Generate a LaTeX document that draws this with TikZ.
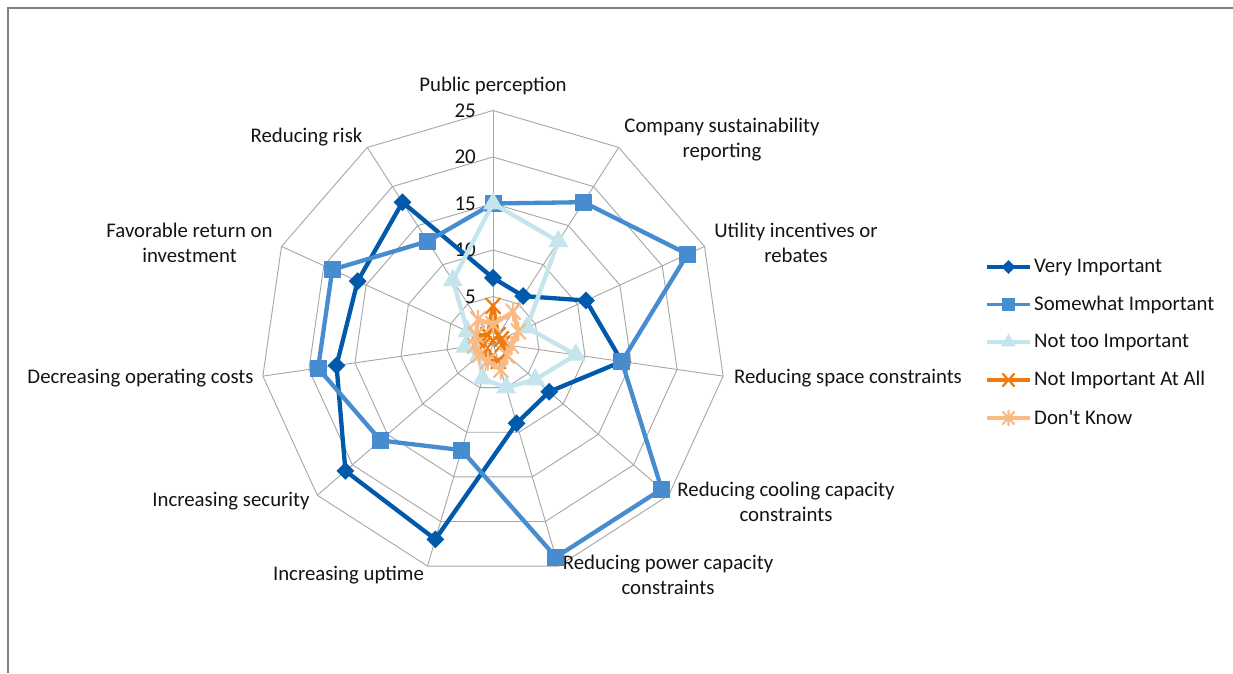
\documentclass[tikz,border=0pt]{standalone}
\usepackage{fontspec}
\setmainfont{Carlito}
\usetikzlibrary{shapes.geometric}
\definecolor{cVI}{RGB}{0,89,170}
\definecolor{cSI}{RGB}{70,140,206}
\definecolor{cNT}{RGB}{196,228,238}
\definecolor{cNA}{RGB}{240,122,10}
\definecolor{cDK}{RGB}{250,186,132}
\definecolor{gridc}{RGB}{166,166,166}
\definecolor{framec}{RGB}{128,128,128}
\definecolor{txt}{RGB}{20,20,20}
\tikzset{
  gridline/.style={draw=gridc, line width=0.9pt},
  frameline/.style={draw=framec, line width=2pt},
  serVI/.style={draw=cVI, line width=4.3pt, line join=round},
  serSI/.style={draw=cSI, line width=4.3pt, line join=round},
  serNT/.style={draw=cNT, line width=4.3pt, line join=round},
  serNA/.style={draw=cNA, line width=4.3pt, line join=round},
  serDK/.style={draw=cDK, line width=4.3pt, line join=round},
  mkVI/.style={diamond, fill=cVI, inner sep=0pt, minimum size=18pt},
  mkSI/.style={rectangle, fill=cSI, inner sep=0pt, minimum size=17pt},
  mkNT/.style={regular polygon, regular polygon sides=3, fill=cNT, inner sep=0pt, minimum size=23pt},
  lbl/.style={text=txt, font=\fontsize{20.8}{25}\selectfont, align=center, inner sep=0pt},
  tick/.style={text=txt, font=\fontsize{21}{25}\selectfont, anchor=east, inner sep=0pt},
  xmk/.pic={\draw[line width=2.2pt, line cap=round] (-7,-7.5) -- (7,7.5) (-7,7.5) -- (7,-7.5);},
  amk/.pic={\draw[line width=2.2pt, line cap=round] (-7,-7.5) -- (7,7.5) (-7,7.5) -- (7,-7.5) (0,-9) -- (0,9);},
}
\def\cx{493}\def\cy{343}\def\un{9.3}
\begin{document}
\begin{tikzpicture}[x=1pt,y=-1pt]
\useasboundingbox (0,0) rectangle (1233,673);
\fill[white] (0,0) rectangle (1233,673);
\coordinate (fbl) at (8,673);
\coordinate (ftl) at (8,7.5);
\coordinate (ftr) at (1233,7.5);
\draw[frameline] (fbl) -- (ftl) -- (ftr);
\coordinate (ctr) at (\cx,\cy);
% grid rings
\foreach \r in {5,10,15,20,25}{
  \foreach \k in {0,...,10}{
    \pgfmathsetmacro\ang{90-\k*360/11}
    \coordinate (g\r-\k) at ({\cx+\un*\r*cos(\ang)},{\cy-\un*\r*sin(\ang)});
  }
  \draw[gridline] (g\r-0) -- (g\r-1) -- (g\r-2) -- (g\r-3) -- (g\r-4) -- (g\r-5) -- (g\r-6) -- (g\r-7) -- (g\r-8) -- (g\r-9) -- (g\r-10) -- cycle;
}
\foreach \k in {0,...,10}{ \draw[gridline] (ctr) -- (g25-\k); }
% tick labels
\foreach \v in {0,5,...,25}{
  \node[tick] (t\v) at (476,{\cy-\un*\v}) {\v};
}
% data coordinates
\def\defser#1#2{%
  \foreach \val [count=\i from 0] in {#2}{
    \pgfmathsetmacro\ang{90-\i*360/11}
    \coordinate (#1\i) at ({\cx+\un*\val*cos(\ang)},{\cy-\un*\val*sin(\ang)});
  }}
\defser{vi}{7,6,11,14,8,9,22,21,17,16,18}
\defser{si}{15,18,23,14,24,24,12,16,19,19,13}
\defser{nt}{15,13,4,9,6,5,4,2,3,3,8}
\defser{na}{4,1,1,1,2,2,2,1,1,2,1}
\defser{dk}{2,4,3,2,2,3,2,2,2,2,3}
% series
\draw[serVI] (vi0) -- (vi1) -- (vi2) -- (vi3) -- (vi4) -- (vi5) -- (vi6) -- (vi7) -- (vi8) -- (vi9) -- (vi10) -- cycle;
\foreach \i in {0,...,10}{ \node[mkVI] (mvi\i) at (vi\i) {}; }
\draw[serSI] (si0) -- (si1) -- (si2) -- (si3) -- (si4) -- (si5) -- (si6) -- (si7) -- (si8) -- (si9) -- (si10) -- cycle;
\foreach \i in {0,...,10}{ \node[mkSI] (msi\i) at (si\i) {}; }
\draw[serNT] (nt0) -- (nt1) -- (nt2) -- (nt3) -- (nt4) -- (nt5) -- (nt6) -- (nt7) -- (nt8) -- (nt9) -- (nt10) -- cycle;
\foreach \i in {0,...,10}{ \node[mkNT] (mnt\i) at (nt\i) {}; }
\draw[serNA] (na0) -- (na1) -- (na2) -- (na3) -- (na4) -- (na5) -- (na6) -- (na7) -- (na8) -- (na9) -- (na10) -- cycle;
\foreach \i in {0,...,10}{ \pic[draw=cNA] at (na\i) {xmk}; }
\draw[serDK] (dk0) -- (dk1) -- (dk2) -- (dk3) -- (dk4) -- (dk5) -- (dk6) -- (dk7) -- (dk8) -- (dk9) -- (dk10) -- cycle;
\foreach \i in {0,...,10}{ \pic[draw=cDK] at (dk\i) {amk}; }
% axis labels
\node[lbl] (l0) at (493,86) {Public perception};
\node[lbl] (l1) at (722,140) {Company sustainability\\reporting};
\node[lbl] (l2) at (796,242.5) {Utility incentives or\\rebates};
\node[lbl] (l3) at (848,378) {Reducing space constraints};
\node[lbl] (l4) at (786,501.5) {Reducing cooling capacity\\constraints};
\node[lbl] (l5) at (668,574.5) {Reducing power capacity\\constraints};
\node[lbl] (l6) at (348.5,575) {Increasing uptime};
\node[lbl] (l7) at (231,501) {Increasing security};
\node[lbl] (l8) at (140.5,378) {Decreasing operating costs};
\node[lbl] (l9) at (189.5,242.5) {Favorable return on\\investment};
\node[lbl] (l10) at (306.5,137) {Reducing risk};
% legend
\foreach \n/\yy/\s/\t in {a/267/VI/Very Important, b/304.5/SI/Somewhat Important, c/342/NT/Not too Important, d/380/NA/Not Important At All, e/418/DK/Don\textquotesingle t Know}{
  \coordinate (lg\n1) at (987,\yy);
  \coordinate (lg\n2) at (1030,\yy);
  \coordinate (lg\n m) at (1008.5,\yy);
  \draw[ser\s, line width=3.3pt] (lg\n1) -- (lg\n2);
  \node[lbl, anchor=west] (lt\n) at (1034,\yy) {\t};
}
\node[mkVI, minimum size=14pt] (lma) at (lgam) {};
\node[mkSI, minimum size=13pt] (lmb) at (lgbm) {};
\node[mkNT, minimum size=17pt] (lmc) at (lgcm) {};
\pic[draw=cNA, scale=0.8] at (lgdm) {xmk};
\pic[draw=cDK, scale=0.8] at (lgem) {amk};
\end{tikzpicture}
\end{document}
